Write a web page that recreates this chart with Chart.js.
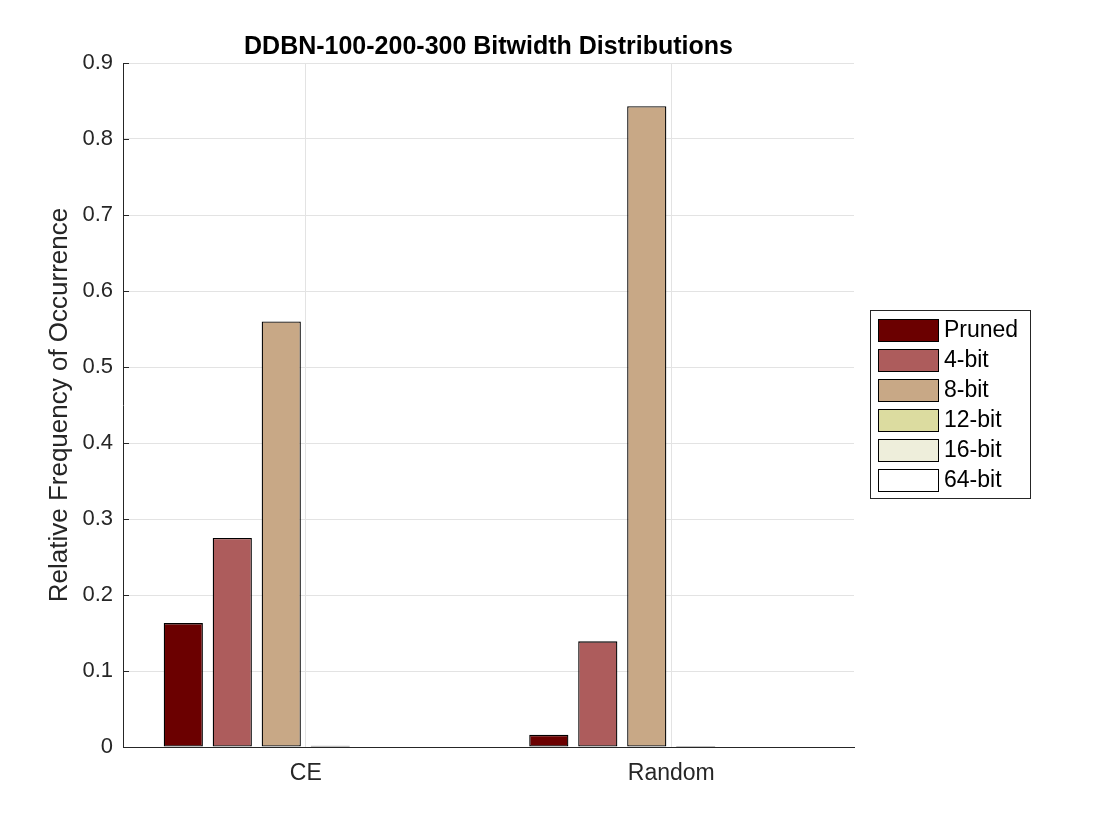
<!DOCTYPE html>
<html>
<head>
<meta charset="utf-8">
<script src="https://cdn.jsdelivr.net/npm/chart.js@4.4.1/dist/chart.umd.min.js"></script>
<style>
  html, body { margin: 0; padding: 0; background: #ffffff; }
  #wrap { width: 1120px; height: 840px; position: relative; }
</style>
</head>
<body>
<div id="wrap"><canvas id="c" width="1120" height="840"></canvas></div>
<script>
const categories = ['CE', 'Random'];
const seriesLabels = ['Pruned', '4-bit', '8-bit', '12-bit', '16-bit', '64-bit'];
const pruned = [0.163, 0.016];
const bit4 = [0.275, 0.139];
const bit8 = [0.560, 0.843];
const bit12 = [0.0015, 0.0012];
const bit16 = [0, 0];
const bit64 = [0, 0];
const seriesColors = ['#6b0000', '#ad5c5c', '#c8a886', '#dcdca0', '#eeeedb', '#ffffff'];
const yTicks = [0, 0.1, 0.2, 0.3, 0.4, 0.5, 0.6, 0.7, 0.8, 0.9];
const titleText = 'DDBN-100-200-300 Bitwidth Distributions';
const yLabelText = 'Relative Frequency of Occurrence';

const seriesValues = [pruned, bit4, bit8, bit12, bit16, bit64];
const FONT = '"Liberation Sans", Arial, Helvetica, sans-serif';
const TXT = '#262626';

const decor = {
  id: 'decor',
  afterDraw(chart) {
    const ctx = chart.ctx;
    const ca = chart.chartArea;
    const y = chart.scales.y;
    ctx.save();
    // inward tick marks on left axis
    ctx.strokeStyle = '#262626';
    ctx.lineWidth = 1;
    yTicks.forEach(v => {
      const py = Math.round(y.getPixelForValue(v)) + 0.5;
      ctx.beginPath();
      ctx.moveTo(ca.left, py);
      ctx.lineTo(ca.left + 6, py);
      ctx.stroke();
    });
    // title
    ctx.fillStyle = '#000000';
    ctx.font = 'bold 25px ' + FONT;
    ctx.textAlign = 'center';
    ctx.textBaseline = 'middle';
    ctx.fillText(titleText, (ca.left + ca.right) / 2, 47);
    // y label
    ctx.save();
    ctx.translate(60, (ca.top + ca.bottom) / 2);
    ctx.rotate(-Math.PI / 2);
    ctx.fillStyle = TXT;
    ctx.font = '26px ' + FONT;
    ctx.fillText(yLabelText, 0, 0);
    ctx.restore();
    // legend
    const lx = 870, ly = 310, lw = 160, lh = 188;
    ctx.fillStyle = '#ffffff';
    ctx.fillRect(lx, ly, lw, lh);
    ctx.strokeStyle = '#262626';
    ctx.strokeRect(lx + 0.5, ly + 0.5, lw, lh);
    ctx.font = '23px ' + FONT;
    ctx.textAlign = 'left';
    seriesLabels.forEach((lab, i) => {
      const sy = 319 + i * 30;
      ctx.fillStyle = seriesColors[i];
      ctx.fillRect(878, sy, 60, 22);
      ctx.strokeStyle = '#000000';
      ctx.strokeRect(878.5, sy + 0.5, 60, 22);
      ctx.fillStyle = '#000000';
      ctx.fillText(lab, 944, sy + 12);
    });
    ctx.restore();
  }
};

new Chart(document.getElementById('c'), {
  type: 'bar',
  data: {
    labels: categories,
    datasets: seriesLabels.map((lab, i) => ({
      label: lab,
      data: seriesValues[i],
      backgroundColor: seriesColors[i],
      borderColor: '#000000',
      borderWidth: 1.3,
      borderSkipped: false,
      categoryPercentage: 0.804,
      barPercentage: 0.8
    }))
  },
  options: {
    responsive: false,
    animation: false,
    devicePixelRatio: 1,
    layout: { padding: { left: 0, right: 266, top: 63, bottom: 0 } },
    plugins: { legend: { display: false }, title: { display: false }, tooltip: { enabled: false } },
    scales: {
      x: {
        offset: true,
        grid: { offset: false, color: '#e3e3e3', drawTicks: false },
        border: { display: true, color: '#262626', width: 1 },
        ticks: { color: TXT, font: { family: FONT, size: 23 }, padding: 13 },
        afterFit(s) { s.height = 93; }
      },
      y: {
        min: 0, max: 0.9,
        afterBuildTicks(s) { s.ticks = yTicks.map(v => ({ value: v })); },
        grid: { color: '#e3e3e3', drawTicks: false },
        border: { display: true, color: '#262626', width: 1 },
        ticks: {
          color: TXT, font: { family: FONT, size: 22 }, padding: 10,
          callback: v => (v === 0 ? '0' : Number(v).toFixed(1))
        },
        afterFit(s) { s.width = 123; }
      }
    }
  },
  plugins: [decor]
});
</script>
</body>
</html>
